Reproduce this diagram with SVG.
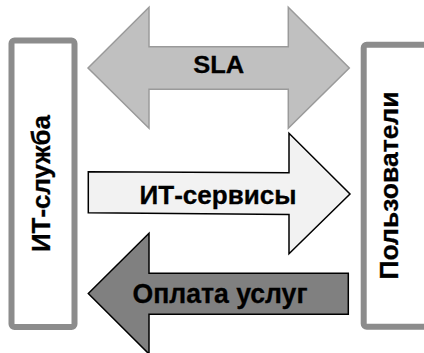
<svg xmlns="http://www.w3.org/2000/svg" width="424" height="353" viewBox="0 0 424 353">
  <style>
    .party { fill: #ffffff; stroke: #8c8c8c; stroke-width: 6; }
    .lbl { font-family: "Liberation Sans", Arial, sans-serif; font-weight: bold; fill: #000000; stroke: #000000; stroke-width: 0.3; text-anchor: middle; }
    .sla { fill: #c0c0c0; stroke: #9a9a9a; stroke-width: 1.5; stroke-linejoin: miter; }
    .svc { fill: #f2f2f2; stroke: #000000; stroke-width: 1.5; stroke-linejoin: miter; }
    .pay { fill: #808080; stroke: #000000; stroke-width: 1.5; stroke-linejoin: miter; }
  </style>

  <!-- IT service box -->
  <g id="it-service">
    <rect class="party" x="11.5" y="40.5" width="63" height="286.5" rx="3"/>
    <text class="lbl" font-size="26.5" transform="translate(50,183.5) rotate(-90)" textLength="137" lengthAdjust="spacingAndGlyphs">ИТ-служба</text>
  </g>

  <!-- Users box -->
  <g id="users">
    <rect class="party" x="363.7" y="44.7" width="70" height="282" rx="3"/>
    <text class="lbl" font-size="26.5" transform="translate(398,185.5) rotate(-90)" textLength="188" lengthAdjust="spacingAndGlyphs">Пользователи</text>
  </g>

  <!-- Flows between the parties -->
  <g id="connectors">
    <g id="sla">
      <polygon class="sla" points="88,68 149,7.3 149,46.7 288.3,46.7 288.3,7.3 349.3,68 288.3,128.3 288.3,89.3 149,89.3 149,128.3"/>
      <text class="lbl" font-size="23.5" x="218.7" y="73.2" textLength="51" lengthAdjust="spacingAndGlyphs">SLA</text>
    </g>
    <g id="services">
      <polygon class="svc" points="88.3,171.7 289,172.7 289,133.3 350,194 289,253.7 289,214.5 88.3,212.7"/>
      <text class="lbl" font-size="26.5" x="218" y="203.5" textLength="157" lengthAdjust="spacingAndGlyphs">ИТ-сервисы</text>
    </g>
    <g id="payment">
      <polygon class="pay" points="88.3,293.5 149,233.3 149,273.3 348.3,273.3 348.3,314.3 149,314.3 149,354"/>
      <text class="lbl" font-size="27" x="220" y="303" textLength="175" lengthAdjust="spacingAndGlyphs">Оплата услуг</text>
    </g>
  </g>
</svg>
